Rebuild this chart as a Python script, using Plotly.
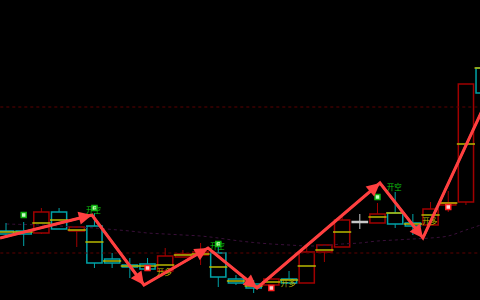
import plotly.graph_objects as go

# ---- data (price units) ----
idx = list(range(28))
open_ = [69, 69, 67, 88, 69, 74, 41, 35, 36, 29, 43, 45, 47, 21, 16, 15, 21, 17, 48, 53, 78.5, 77, 87, 77, 75, 95, 98, 232]
close = [66, 66, 88, 71, 73, 37, 37, 33, 31, 44, 46, 48, 23, 17, 12, 21, 17, 48, 55, 80, 77.5, 86, 76, 74, 91, 97, 216, 207]
high  = [77, 78, 92, 92, 73, 87, 47, 42, 42, 52, 50, 57, 54, 25, 20, 23, 29, 53, 55, 83, 86, 97, 108, 86, 98, 109, 216, 235]
low   = [62, 54, 66, 71, 53, 32, 32, 22, 30, 29, 43, 35, 13, 15, 7, 13, 17, 17, 38, 53, 71, 77, 72, 65, 75, 88, 95, 205]
mid   = [68, 68, 77, 80, 70, 58, 39, 34, 34, 35, 45, 46, 33, 19, 14, 18, 20, 34, 50, 68, None, 83, 87, 76, 85, 97, 156, 232]
ma    = [76, 75.5, 75, 74, 73, 72, 70.5, 69, 67, 66, 65, 64, 62, 59.5, 57.5, 56, 55, 54,
         54.5, 56, 57, 59, 60, 61, 62, 64, 70, 76]
levels = [193, 47]

buy_idx, buy_y = [1, 5, 12, 21], [85, 92, 56, 103]
sell_idx, sell_y = [8, 15, 25], [32, 12, 93]
short_idx, short_y = [4.95, 11.95, 21.95], [89, 53, 112]
long_idx, long_y = [8.95, 15.95, 23.95], [27, 16, 78]

arrow_x = [-0.34, 4.86, 7.80, 11.42, 14.19, 21.14, 23.57, 27.64]
arrow_y = [62, 85, 15, 52, 12, 117, 62, 217]

UP = "#a00000"
DOWN = "#00a3a8"
FLAT = "#c8c8c8"
YEL = "#b8b800"
ARROW = "#ff4040"

fig = go.Figure()

# reference levels
for lv in levels:
    fig.add_trace(go.Scatter(x=[-1, 28], y=[lv, lv], mode="lines",
                             line=dict(color="#5c0000", width=1, dash="dot"),
                             hoverinfo="skip"))
# moving average
fig.add_trace(go.Scatter(x=idx, y=ma, mode="lines", line=dict(color="#3a103a", width=1, dash="dot"),
                         line_shape="spline", hoverinfo="skip"))

def color_of(i):
    if i == 20:
        return FLAT
    return UP if close[i] > open_[i] else DOWN

groups = {}
for i in idx:
    groups.setdefault(color_of(i), []).append(i)

for col, ids in groups.items():
    wx, wy = [], []
    for i in ids:
        top, bot = max(open_[i], close[i]), min(open_[i], close[i])
        if high[i] > top:
            wx += [i, i, None]; wy += [high[i], top, None]
        if low[i] < bot:
            wx += [i, i, None]; wy += [bot, low[i], None]
    fig.add_trace(go.Scatter(x=wx, y=wy, mode="lines", line=dict(color=col, width=1),
                             hoverinfo="skip"))
    fig.add_trace(go.Bar(x=ids,
                         y=[abs(close[i] - open_[i]) for i in ids],
                         base=[min(open_[i], close[i]) for i in ids],
                         width=0.86,
                         marker=dict(color="rgba(0,0,0,0)", line=dict(color=col, width=1.5)),
                         hoverinfo="skip"))

# yellow mid lines
fig.add_trace(go.Scatter(x=idx, y=mid, mode="markers",
                         marker=dict(symbol="line-ew", size=13, line=dict(color=YEL, width=1.5)),
                         hoverinfo="skip"))

# arrows
fig.add_trace(go.Scatter(x=arrow_x, y=arrow_y, mode="lines",
                         line=dict(color=ARROW, width=3), hoverinfo="skip"))
for k in range(1, len(arrow_x)):
    fig.add_annotation(x=arrow_x[k], y=arrow_y[k], ax=arrow_x[k - 1], ay=arrow_y[k - 1],
                       xref="x", yref="y", axref="x", ayref="y", text="",
                       showarrow=True, arrowhead=2, arrowsize=1.2, arrowwidth=2.2,
                       arrowcolor=ARROW, standoff=0)

# signal markers
fig.add_trace(go.Scatter(x=buy_idx, y=buy_y, mode="markers",
                         marker=dict(symbol="square", size=5, color="#c8ffc8",
                                     line=dict(color="#10b010", width=1.5)), hoverinfo="skip"))
fig.add_trace(go.Scatter(x=sell_idx, y=sell_y, mode="markers",
                         marker=dict(symbol="square", size=5, color="#ffd0d0",
                                     line=dict(color="#ff2020", width=1.5)), hoverinfo="skip"))

# labels
fig.add_trace(go.Scatter(x=short_idx, y=short_y, mode="text", text=["开空"] * len(short_idx),
                         textfont=dict(color="#10c010", size=7.5, family="Noto Sans CJK SC"),
                         hoverinfo="skip"))
fig.add_trace(go.Scatter(x=long_idx, y=long_y, mode="text", text=["开多"] * len(long_idx),
                         textfont=dict(color="#b8b800", size=7.5, family="Noto Sans CJK SC"),
                         hoverinfo="skip"))

fig.update_layout(
    width=480, height=300, margin=dict(l=0, r=0, t=0, b=0),
    paper_bgcolor="#000000", plot_bgcolor="#000000",
    showlegend=False, barmode="overlay",
    xaxis=dict(range=[-0.339, 26.795], visible=False, showgrid=False, zeroline=False),
    yaxis=dict(range=[0, 300], visible=False, showgrid=False, zeroline=False),
)

fig.write_html("out.html")
